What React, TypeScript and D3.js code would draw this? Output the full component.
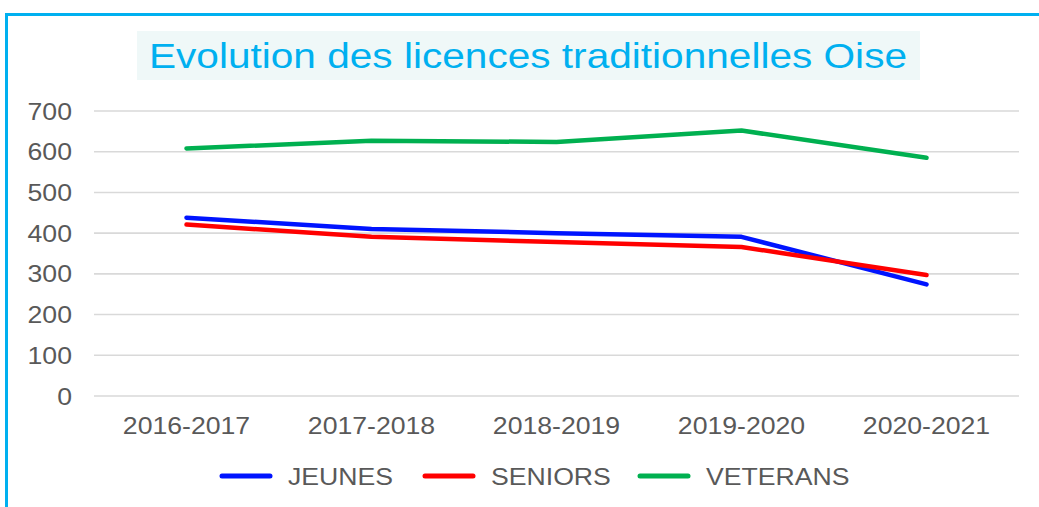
import React from "react";
import * as d3 from "d3";

const title = "Evolution des licences traditionnelles Oise";
const seasons = ["2016-2017", "2017-2018", "2018-2019", "2019-2020", "2020-2021"];
const jeunes = [438, 410, 400, 391, 274];
const seniors = [421, 391, 378, 366, 297];
const veterans = [608, 627, 624, 652, 585];
const yTicks = [0, 100, 200, 300, 400, 500, 600, 700];
const seriesNames = ["JEUNES", "SENIORS", "VETERANS"];
const seriesColors = ["#0014FF", "#FF0000", "#00B050"];

const W = 1039;
const H = 507;
const FONT = "Arial, 'Liberation Sans', sans-serif";
const TXT = "#595959";

function T({ x, y, size, sx, anchor, fill, children }: any) {
  return (
    <g transform={`translate(${x},${y}) scale(${sx},1)`}>
      <text x={0} y={0} fontSize={size} textAnchor={anchor} fill={fill} fontFamily={FONT}>
        {children}
      </text>
    </g>
  );
}

export default function App() {
  const x = d3.scalePoint<string>().domain(seasons).range([94, 1019]).padding(0.5);
  const y = d3.scaleLinear().domain([0, 700]).range([396, 111]);
  const data = [jeunes, seniors, veterans];
  const line = d3
    .line<number>()
    .x((_, i) => x(seasons[i]) as number)
    .y((d) => y(d));

  const legendX = [222, 425, 640];

  return (
    <svg width={W} height={H} style={{ position: "absolute", left: 0, top: 0, background: "#fff" }}>
      <path d={`M6.5,${H} L6.5,14.5 L${W},14.5`} fill="none" stroke="#00B0F0" strokeWidth={3} />
      <rect x={137} y={31} width={783} height={49} fill="#EFF8F8" />
      <T x={528} y={68} size={35} sx={1.16} anchor="middle" fill="#00B0F0">{title}</T>

      {yTicks.map((t) => (
        <g key={t}>
          <line x1={94} x2={1019} y1={y(t)} y2={y(t)} stroke="#D9D9D9" strokeWidth={1.6} />
          <T x={72} y={y(t) + 8.5} size={24} sx={1.11} anchor="end" fill={TXT}>{t}</T>
        </g>
      ))}

      {seasons.map((s) => (
        <T key={s} x={x(s)} y={434} size={24} sx={1.11} anchor="middle" fill={TXT}>{s}</T>
      ))}

      {data.map((d, i) => (
        <path key={i} d={line(d) || ""} fill="none" stroke={seriesColors[i]} strokeWidth={4.5} strokeLinecap="round" strokeLinejoin="round" />
      ))}

      {seriesNames.map((n, i) => (
        <g key={n}>
          <line x1={legendX[i]} x2={legendX[i] + 48} y1={476} y2={476} stroke={seriesColors[i]} strokeWidth={5} strokeLinecap="round" />
          <T x={legendX[i] + 66} y={485} size={24} sx={1.11} anchor="start" fill={TXT}>{n}</T>
        </g>
      ))}
    </svg>
  );
}
